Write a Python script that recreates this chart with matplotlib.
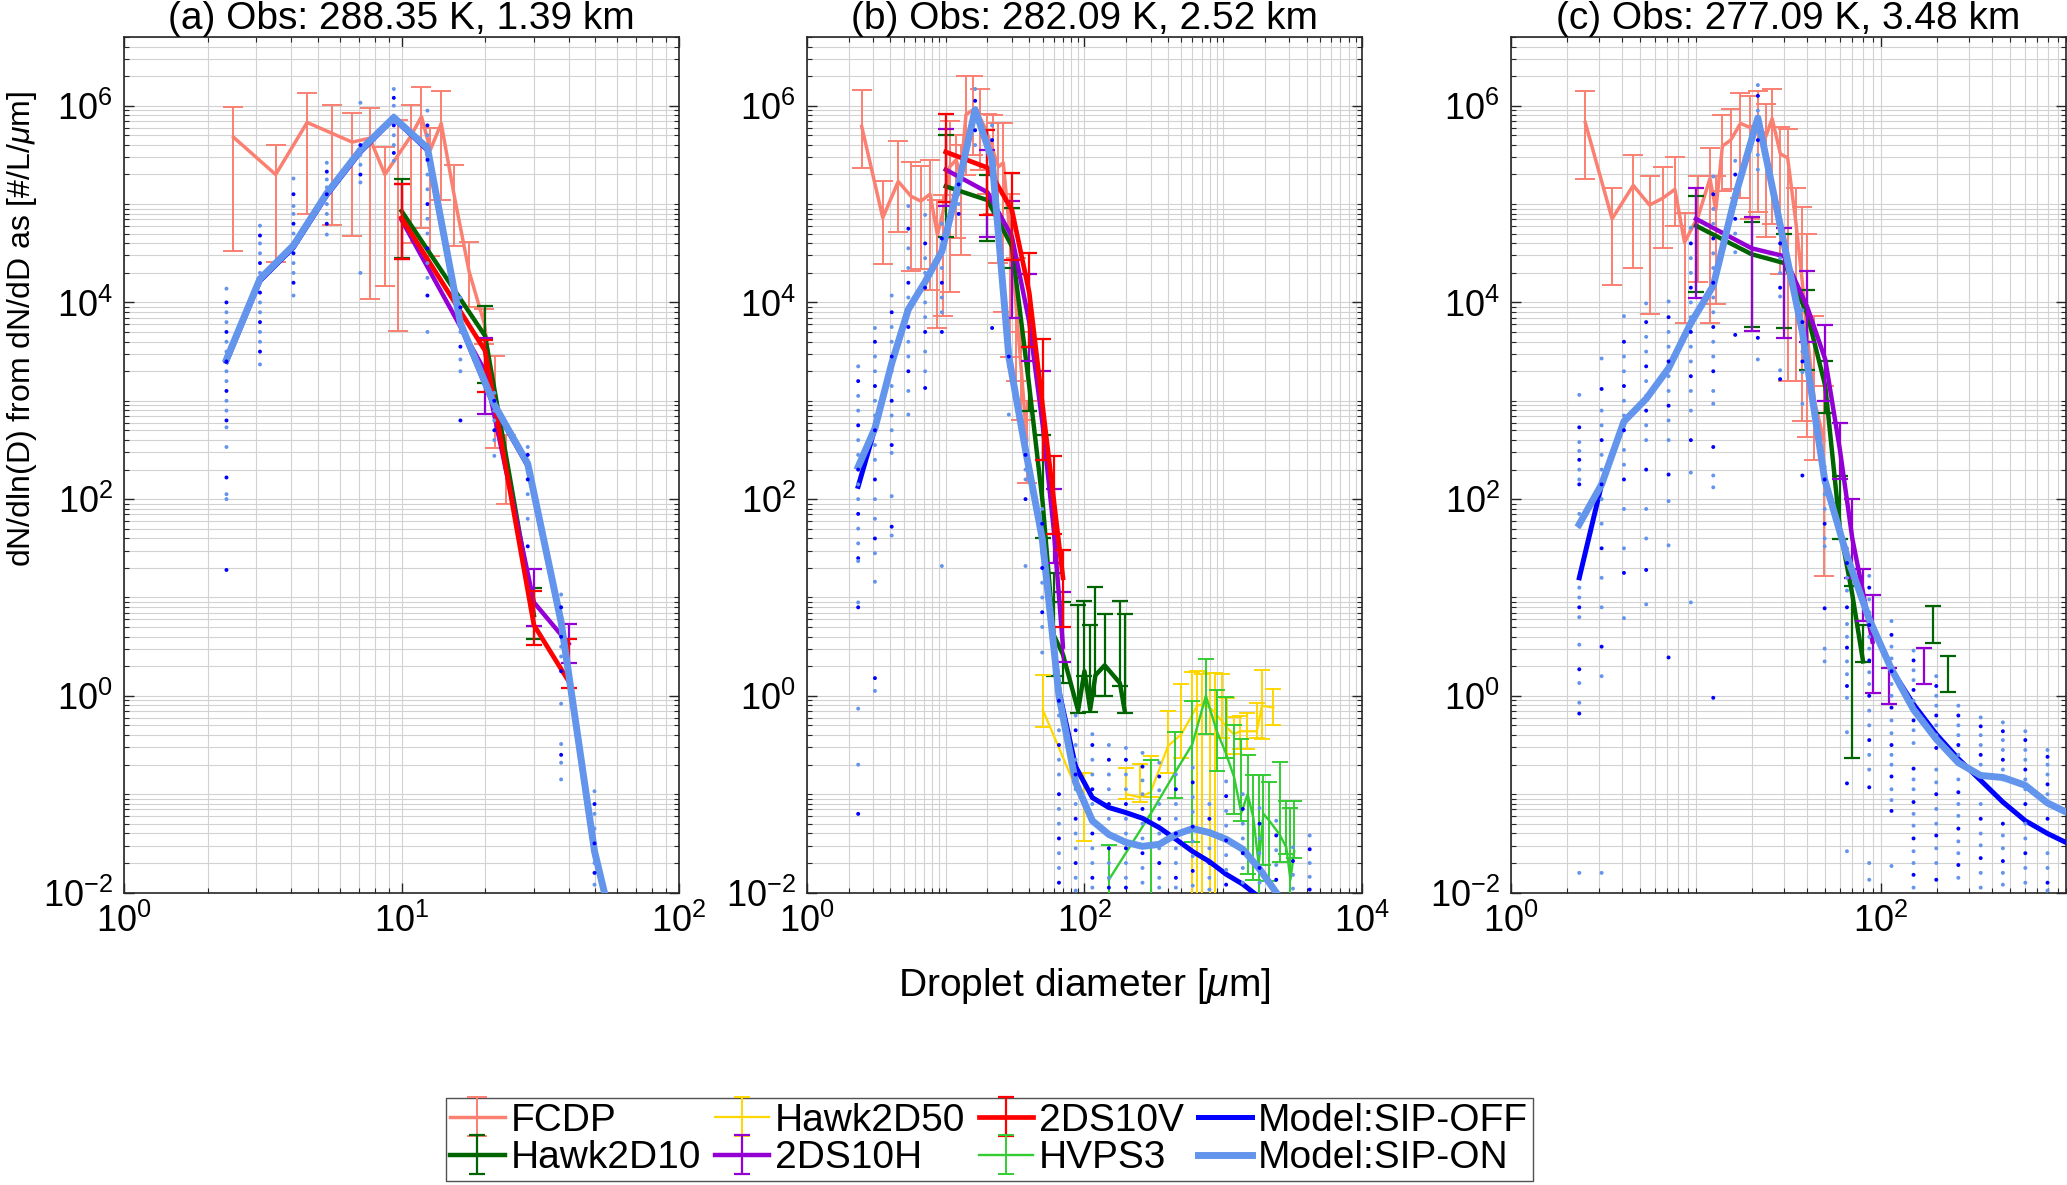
import numpy as np
import matplotlib
matplotlib.use('Agg')
import matplotlib.pyplot as plt
from matplotlib.ticker import FixedLocator, LogLocator, FuncFormatter, NullFormatter

plt.rcParams['font.family'] = ['Liberation Sans', 'DejaVu Sans']
plt.rcParams['mathtext.fontset'] = 'custom'
plt.rcParams['mathtext.rm'] = 'Liberation Sans'
plt.rcParams['mathtext.it'] = 'Liberation Sans:italic'
plt.rcParams['mathtext.bf'] = 'Liberation Sans:bold'

# ---------------- data (log10 of dN/dlnD) ----------------
titles = ['(a) Obs: 288.35 K, 1.39 km', '(b) Obs: 282.09 K, 2.52 km', '(c) Obs: 277.09 K, 3.48 km']
labels = ['FCDP', 'Hawk2D10', 'Hawk2D50', '2DS10H', '2DS10V', 'HVPS3', 'Model:SIP-OFF', 'Model:SIP-ON']

# model bin centres (um)
model_D = [2.34, 3.09, 4.08, 5.38, 7.11, 9.38, 12.4, 16.3, 21.6, 28.5, 37.6, 49.6, 65.5, 86.4,
           114, 150, 199, 262, 346, 456, 603, 795, 1050, 1384, 1827, 2411, 3183, 4201]

# ---- panel a ----
fcdp_a_D = [2.48, 3.52, 4.57, 5.61, 6.64, 7.69, 8.71, 9.73, 10.8, 11.8, 12.7, 13.9, 15.5, 17.5, 19.9, 21.7, 23.7]
fcdp_a_N = [5.68, 5.30, 5.83, 5.72, 5.63, 5.67, 5.30, 5.50, 5.69, 5.89, 5.55, 5.82, 5.08, 4.32, 3.78, 2.91, 2.30]
fcdp_a_top = [5.99, 5.60, 6.13, 6.01, 5.93, 5.98, 5.58, 5.85, 6.01, 6.19, 5.77, 6.15, 5.40, 4.61, 3.93, 3.46, 2.65]
fcdp_a_bot = [4.52, 4.41, 4.90, 4.79, 4.68, 4.03, 4.17, 3.71, 4.60, 4.76, 4.47, 5.04, 4.57, 3.95, 3.58, 2.52, 1.95]

h2d10_a_D = [10, 20, 30]
h2d10_a_N = [4.93, 3.66, 0.82]
h2d10_a_top = [5.25, 3.96, 1.10]
h2d10_a_bot = [4.45, 3.18, 0.58]

ds10h_a_D = [10, 20, 30, 40]
ds10h_a_N = [4.84, 3.30, 0.95, 0.53]
ds10h_a_top = [5.20, 3.64, 1.29, 0.73]
ds10h_a_bot = [4.44, 2.87, 0.71, 0.33]

ds10v_a_D = [10, 20, 30, 40]
ds10v_a_N = [4.86, 3.51, 0.72, 0.15]
ds10v_a_top = [5.20, 3.62, 1.07, 0.58]
ds10v_a_bot = [4.44, 3.09, 0.52, 0.08]

off_a = [3.40, 4.22, 4.56, 5.09, 5.53, 5.87, 5.55, 3.77, 2.94, 2.34, 0.73, -1.60, -3.0]
on_a = [3.42, 4.24, 4.58, 5.11, 5.55, 5.88, 5.57, 3.79, 2.96, 2.36, 0.75, -1.58, -3.0]

dots_a = [
    [4.14, 4.0, 3.9, 3.8, 3.7, 3.6, 3.5, 3.4, 3.3, 3.2, 3.1, 3.0, 2.9, 2.8, 2.73, 2.53, 2.22, 2.05, 2.0, 1.28],
    [4.78, 4.68, 4.6, 4.5, 4.4, 4.3, 4.2, 4.1, 4.0, 3.9, 3.8, 3.7, 3.6, 3.5, 3.37],
    [5.26, 5.1, 4.98, 4.9, 4.8, 4.7, 4.6, 4.5, 4.4, 4.3, 4.2, 4.07],
    [5.42, 5.33, 5.25, 5.17, 5.1, 5.0, 4.9, 4.8, 4.69],
    [6.03, 5.6, 5.5, 5.4, 5.3, 5.22, 4.30],
    [6.17, 6.08, 6.0, 5.9, 5.8, 5.7, 5.6, 5.52, 5.44],
    [5.95, 5.8, 5.7, 5.6, 5.45, 5.3, 5.15, 5.0, 4.85, 4.7, 4.55, 4.4, 4.25, 4.07, 3.70],
    [4.05, 3.95, 3.8, 3.7, 3.55, 3.42, 3.30, 2.80],
    [3.08, 3.0, 2.9, 2.8, 2.7, 2.6, 2.44],
    [2.53, 2.45, 2.35, 2.28, 2.2, 2.05, 1.8, 1.52],
    [1.03, 0.9, 0.8, 0.7, 0.6, 0.5, 0.4, 0.25, -0.08, -0.49, -0.6, -0.68, -0.85],
    [-0.97, -1.1, -1.2, -1.35, -1.5, -1.6, -1.7, -1.8, -1.92],
]

# ---- panel b ----
fcdp_b_D = [2.48, 3.52, 4.55, 5.62, 6.61, 7.71, 8.71, 9.61, 10.7, 11.9, 12.8, 14.0, 15.8, 17.7,
            19.7, 21.8, 24.0, 26.0, 29.0, 32.0, 35.1, 38.4]
fcdp_b_N = [5.79, 4.86, 5.23, 5.08, 5.03, 5.10, 4.69, 4.93, 5.38, 5.45, 5.28, 5.91, 5.96, 5.88,
            5.74, 5.55, 5.38, 5.42, 4.70, 4.00, 3.30, 2.60]
fcdp_b_top = [6.16, 5.23, 5.64, 5.43, 5.39, 5.45, 5.04, 5.09, 5.84, 5.70, 5.60, 6.30, 6.30, 6.17,
              5.92, 5.91, 5.82, 5.82, 5.10, 4.45, 3.70, 3.00]
fcdp_b_bot = [5.37, 4.39, 4.72, 4.32, 4.34, 4.13, 3.74, 3.86, 4.11, 4.65, 4.48, 5.30, 5.50, 5.35,
              5.10, 4.90, 4.40, 3.90, 3.45, 3.20, 2.80, 2.16]

h2d10_b_D = [10, 20, 30, 40, 50, 60, 70, 90, 100, 110, 120, 140, 180, 195]
h2d10_b_N = [5.18, 5.04, 4.57, 3.15, 1.96, 0.62, 0.42, -0.15, 0.25, -0.14, 0.21, 0.31, 0.13, -0.15]
h2d10_b_top = [5.70, 5.30, 4.96, 3.55, 2.65, 1.25, 0.95, 0.92, 0.96, 0.72, 1.11, 0.83, 0.96, 0.83]
h2d10_b_bot = [4.67, 4.62, 4.35, 2.90, 1.60, 0.20, 0.13, -0.17, 0.20, -0.16, 0.00, 0.00, 0.10, -0.17]

h2d50_b_D = [50, 100, 150, 200, 250, 300, 400, 500, 600, 650, 700, 800, 870, 980, 1060, 1190,
             1320, 1480, 1750, 1900, 2300]
h2d50_b_N = [-0.14, -1.14, np.nan, -1.00, -1.03, -0.98, -0.51, -0.39, -0.19, -0.10, -0.09, -0.12,
             -0.17, -0.26, -0.32, -0.39, -0.36, -0.36, -0.36, -0.10, -0.12]
h2d50_b_top = [0.21, -0.78, np.nan, -0.73, -0.69, -0.61, -0.15, 0.12, 0.24, 0.25, 0.22, 0.23,
               0.23, 0.22, -0.02, -0.22, -0.21, -0.17, -0.07, 0.26, 0.07]
h2d50_b_bot = [-0.32, -1.48, np.nan, -1.05, -1.08, -1.03, -0.78, -0.63, -3.0, -3.0, -3.0, -3.0,
               -3.0, -0.43, -0.63, -0.59, -0.54, -0.54, -0.43, -0.44, -0.30]

ds10h_b_D = [10, 20, 30, 40, 50, 60, 70]
ds10h_b_N = [5.35, 5.12, 4.67, 3.80, 2.75, 1.70, 0.50]
ds10h_b_top = [5.76, 5.55, 5.03, 4.29, 3.30, 2.10, 1.06]
ds10h_b_bot = [4.98, 4.67, 3.84, 3.40, 2.40, 1.35, 0.34]

ds10v_b_D = [10, 20, 30, 40, 50, 60, 70]
ds10v_b_N = [5.53, 5.37, 4.94, 4.10, 2.94, 2.00, 1.20]
ds10v_b_top = [5.92, 5.75, 5.32, 4.50, 3.63, 2.44, 1.48]
ds10v_b_bot = [5.02, 4.89, 4.43, 3.55, 2.40, 1.65, 0.70]

hvps_b_D = [150, 300, 450, 600, 750, 900, 1050, 1200, 1350, 1500, 1650, 1800, 1950, 2150, 2550,
            2850, 3050, 3250]
hvps_b_N = [-1.87, -1.20, -0.78, -0.49, 0.00, -0.36, -0.59, -0.83, -1.19, -1.00, -1.24, -1.71,
            -1.20, -1.27, -1.41, -1.54, -1.87, -1.58]
hvps_b_top = [-1.52, -0.65, -0.37, -0.05, 0.37, 0.06, -0.01, -0.30, -0.44, -0.60, -0.80, -0.80,
              -0.80, -0.88, -0.67, -1.07, -1.14, -1.07]
hvps_b_bot = [-3.0, -3.0, -1.04, -1.49, -0.39, -0.76, -0.63, -1.20, -1.27, -1.81, -1.87, -2.5,
              -1.72, -1.88, -1.69, -1.61, -2.5, -1.65]

off_b = [2.13, 2.72, 3.38, 3.93, 4.21, 4.52, 5.21, 5.96, 5.45, 3.45, 2.50, 1.60, 0.05, -0.72,
         -1.035, -1.136, -1.187, -1.245, -1.34, -1.458, -1.583, -1.685, -1.814, -1.915, -2.05,
         -2.2, -2.4, -2.6]
on_b = [2.33, 2.72, 3.38, 3.93, 4.21, 4.52, 5.21, 5.96, 5.45, 3.45, 2.50, 1.60, 0.00, -0.88,
        -1.27, -1.41, -1.49, -1.53, -1.51, -1.41, -1.35, -1.39, -1.458, -1.56, -1.76, -2.0,
        -2.25, -2.5]

dots_b = [
    [3.35, 3.2, 3.05, 2.9, 2.75, 2.6, 2.45, 2.3, 2.15, 2.0, 1.85, 1.7, 1.55, 1.4, 1.37, 0.95, 0.9, -0.13, -0.7, -1.2],
    [3.74, 3.6, 3.45, 3.3, 3.15, 3.0, 2.85, 2.7, 2.55, 2.4, 2.2, 2.0, 1.8, 1.6, 1.45, 1.16, 0.18, 0.05],
    [4.07, 3.9, 3.75, 3.6, 3.45, 3.3, 3.15, 3.0, 2.85, 2.7, 2.55, 2.47, 2.03, 1.72, 1.63],
    [4.98, 4.75, 4.55, 4.35, 4.2, 4.05, 3.9, 3.75, 3.6, 3.45, 3.3, 3.1, 2.86],
    [4.89, 4.6, 4.45, 4.3, 4.15, 4.0, 3.85, 3.7, 3.5, 3.3, 3.13],
    [4.8, 4.65, 4.5, 4.35, 4.2, 4.05, 3.9, 3.7, 1.32],
    [5.3, 5.2, 5.1, 5.0, 4.9],
    [6.17, 6.05, 5.95, 5.85, 5.75, 5.6],
    [5.8, 5.65, 5.5, 5.35, 3.74],
    [3.6, 3.45, 3.35, 2.86],
    [2.6, 2.45, 2.3, 2.2, 2.0, 1.32],
    [1.9, 1.75, 1.6, 1.45, 1.3, 1.15, 1.0, 0.85, 0.7, 0.44],
    [0.1, -0.05, -0.2, -0.35, -0.5, -0.65, -0.8, -1.0, -1.15, -1.3, -1.45, -1.6, -1.75, -1.9],
    [-0.2, -0.35, -0.5, -0.65, -0.8, -0.95, -1.1, -1.25, -1.4, -1.55, -1.7, -1.85, -1.98],
    [-0.39, -0.5, -0.65, -0.8, -0.95, -1.1, -1.25, -1.4, -1.55, -1.7, -1.85, -1.95],
    [-0.5, -0.65, -0.8, -0.95, -1.1, -1.25, -1.4, -1.55, -1.7, -1.85, -1.95],
    [-0.53, -0.65, -0.8, -0.95, -1.1, -1.25, -1.4, -1.55, -1.7, -1.85, -1.95],
    [-0.58, -0.72, -0.86, -1.0, -1.15, -1.3, -1.45, -1.6, -1.75, -1.9],
    [-0.68, -0.82, -0.96, -1.1, -1.25, -1.4, -1.55, -1.7, -1.85, -1.95],
    [-0.8, -0.95, -1.1, -1.25, -1.4, -1.55, -1.7, -1.85, -1.95],
    [-0.73, -0.88, -1.03, -1.18, -1.33, -1.48, -1.63, -1.78, -1.93],
    [-1.1, -1.25, -1.4, -1.55, -1.7, -1.85, -1.97],
    [-0.87, -1.02, -1.17, -1.32, -1.47, -1.62, -1.77, -1.92],
    [-1.0, -1.15, -1.3, -1.45, -1.6, -1.75, -1.9],
    [-1.14, -1.3, -1.45, -1.6, -1.75, -1.9],
    [-1.27, -1.42, -1.57, -1.72, -1.87],
    [-1.54, -1.68, -1.82, -1.96],
    [-1.42, -1.56, -1.7, -1.84, -1.97],
]

# ---- panel c ----
fcdp_c_D = [2.52, 3.52, 4.58, 5.61, 6.62, 7.69, 8.67, 10.3, 11.9, 12.8, 13.9, 15.4, 17.4, 19.5,
            21.6, 23.9, 25.8, 28.6, 31.3, 34.8, 37.5, 39.7, 43.7, 49.1]
fcdp_c_N = [5.83, 4.85, 5.19, 4.99, 5.06, 5.15, 4.61, 4.88, 5.26, 4.94, 5.59, 5.65, 5.82, 5.78,
            5.81, 5.69, 5.87, 5.51, 5.47, 4.79, 4.22, 3.70, 3.00, 2.60]
fcdp_c_top = [6.15, 5.16, 5.50, 5.29, 5.38, 5.48, 4.91, 5.29, 5.57, 5.29, 5.91, 5.97, 6.13, 6.10,
              6.15, 6.02, 6.17, 5.78, 5.76, 5.16, 4.97, 4.70, 3.86, 3.15]
fcdp_c_bot = [5.25, 4.18, 4.35, 3.88, 4.55, 4.78, 3.79, 4.21, 3.79, 3.98, 5.13, 5.15, 5.06, 4.85,
              4.92, 4.67, 4.80, 4.29, 3.20, 3.20, 2.79, 2.63, 2.40, 1.22]

h2d10_c_D = [10, 20, 30, 40, 50, 60, 70, 80, 100, 190, 200, 230]
h2d10_c_N = [4.78, 4.49, 4.40, 3.88, 3.15, 1.70, 1.03, 0.35, np.nan, 0.72, np.nan, 0.22]
h2d10_c_top = [5.08, 4.82, 4.70, 4.13, 3.40, 2.24, 1.12, 0.72, np.nan, 0.91, np.nan, 0.41]
h2d10_c_bot = [4.11, 3.75, 3.74, 3.31, 2.88, 1.59, -0.63, 0.34, np.nan, 0.54, np.nan, 0.04]

ds10h_c_D = [10, 20, 30, 40, 50, 60, 70, 80, 90, 100, 110, 120, 170]
ds10h_c_N = [4.85, 4.55, 4.47, 3.95, 3.42, 2.50, 1.60, 1.05, 0.55, np.nan, 0.12, np.nan, 0.32]
ds10h_c_top = [5.16, 4.87, 4.76, 4.32, 3.77, 2.77, 2.00, 1.29, 1.03, np.nan, 0.28, np.nan, 0.49]
ds10h_c_bot = [4.05, 3.71, 3.64, 3.60, 3.00, 2.20, 1.20, 0.76, 0.03, np.nan, -0.08, np.nan, 0.12]

off_c = [1.20, 2.15, 2.79, 3.02, 3.33, 3.79, 4.17, 5.08, 5.875, 4.79, 3.70, 2.20, 1.42, 0.78,
         0.27, -0.086, -0.39, -0.64, -0.86, -1.08, -1.27, -1.40, -1.51]
on_c = [1.745, 2.15, 2.79, 3.02, 3.33, 3.79, 4.17, 5.08, 5.875, 4.79, 3.70, 2.20, 1.42, 0.78,
        0.27, -0.14, -0.44, -0.68, -0.81, -0.83, -0.91, -1.09, -1.20]

dots_c = [
    [3.06, 2.73, 2.58, 2.49, 2.40, 2.30, 2.2, 2.15, 1.85, 1.72, 1.2, 1.1, 1.0, 0.9, 0.8, 0.52, 0.27, 0.13, -0.07, -0.18, -1.8],
    [3.43, 3.12, 2.9, 2.75, 2.6, 2.45, 2.3, 2.15, 2.0, 1.75, 1.5, 1.2, 0.9, 0.5, 0.2, -1.8],
    [3.86, 3.6, 3.45, 3.3, 3.15, 3.0, 2.85, 2.7, 2.5, 2.35, 2.2, 1.9, 1.5, 1.25, 0.79],
    [3.99, 3.8, 3.65, 3.5, 3.35, 3.2, 3.05, 2.9, 2.75, 2.6, 2.3, 1.9, 1.6, 1.28, 0.93],
    [4.01, 3.85, 3.7, 3.55, 3.4, 3.25, 3.1, 2.95, 2.8, 2.6, 2.25, 1.98, 1.53, 0.39],
    [4.76, 4.6, 4.45, 4.3, 4.15, 4.0, 3.85, 3.7, 3.55, 3.4, 3.25, 3.1, 2.9, 2.6, 2.27, 0.95],
    [5.28, 5.1, 4.95, 4.8, 4.65, 4.5, 4.35, 4.2, 4.05, 3.9, 3.75, 3.6, 3.45, 3.3, 3.1, 2.97, 2.53, 2.24, 2.12, -0.02],
    [5.44, 5.3, 5.15, 5.0, 4.85, 4.7, 4.51, 3.67],
    [6.21, 6.1, 5.95, 5.8, 5.65, 5.5, 5.35, 3.64, 3.42],
    [4.76, 4.6, 4.45, 4.3, 4.15, 4.06, 3.31, 3.22],
    [3.92, 3.8, 3.65, 3.5, 3.4, 3.29, 2.97, 2.24],
    [2.33, 2.2, 2.05, 1.9, 1.75, 1.6, 1.52, 0.89, 0.48, 0.35],
    [1.5, 1.35, 1.2, 1.07, 0.9, 0.73, 0.6, 0.49, 0.35, 0.22, 0.1, -0.02, -0.37, -0.89, -1.58],
    [1.22, 1.1, 0.98, 0.85, 0.72, 0.6, 0.48, 0.36, 0.24, 0.12, 0.0, -0.15, -0.3, -0.45, -0.6, -0.75, -0.93, -1.7, -1.87],
    [0.76, 0.62, 0.5, 0.38, 0.25, 0.12, 0.0, -0.12, -0.25, -0.38, -0.5, -0.6, -0.7, -0.82, -0.95, -1.06, -1.17, -1.73],
    [0.46, 0.36, 0.26, 0.16, 0.06, -0.05, -0.15, -0.25, -0.35, -0.48, -0.74, -0.85, -0.95, -1.08, -1.2, -1.32, -1.45, -1.58, -1.7, -1.82, -1.95],
    [0.2, 0.1, 0.0, -0.1, -0.2, -0.3, -0.4, -0.53, -0.75, -0.88, -1.0, -1.15, -1.3, -1.42, -1.55, -1.7, -1.87],
    [-0.1, -0.2, -0.3, -0.4, -0.5, -0.6, -0.85, -0.98, -1.1, -1.22, -1.35, -1.48, -1.6, -1.72, -1.85],
    [-0.22, -0.31, -0.4, -0.5, -0.6, -0.7, -1.1, -1.25, -1.4, -1.52, -1.65, -1.8, -1.95],
    [-0.27, -0.36, -0.45, -0.55, -0.65, -0.75, -0.85, -1.3, -1.42, -1.55, -1.68, -1.8, -1.92],
    [-0.36, -0.45, -0.55, -0.65, -0.75, -0.85, -0.95, -1.1, -1.3, -1.45, -1.6, -1.75, -1.9],
    [-0.55, -0.62, -0.7, -0.8, -0.9, -1.0, -1.1, -1.25, -1.6, -1.75, -1.9, -1.98],
    [-0.8, -0.9, -1.0, -1.1, -1.2, -1.3, -1.4],
]

# ---------------- style ----------------
C_FCDP = '#FA8072'
C_H2D10 = '#006400'
C_H2D50 = '#FFD700'
C_2DSH = '#9400D3'
C_2DSV = '#FF0000'
C_HVPS = '#32CD32'
C_OFF = '#0000FF'
C_ON = '#6495ED'
FS_TICK = 26
FS_TITLE = 28
FS_XLAB = 28
FS_YLAB = 23
FS_LEG = 28

fig = plt.figure(figsize=(20.67, 11.85), dpi=100)
bottom, height = 0.2468, 0.7220
lefts = [0.0600, 0.3904, 0.7310]
width = 0.2685
axes = [fig.add_axes([l, bottom, width, height]) for l in lefts]


def obs(ax, D, N, top, bot, color, lw, elw, cap, label, z):
    D = np.asarray(D, float)
    y = 10.0 ** np.asarray(N, float)
    yt = 10.0 ** np.asarray(top, float)
    yb = 10.0 ** np.asarray(bot, float)
    err = np.vstack([np.clip(y - yb, 0, None), np.clip(yt - y, 0, None)])
    ax.errorbar(D, y, yerr=err, color=color, lw=lw, elinewidth=elw, capsize=cap,
                capthick=elw, label=label, zorder=z)


def model(ax, vals, color, lw, label, z):
    n = len(vals)
    ax.plot(model_D[:n], 10.0 ** np.asarray(vals, float), color=color, lw=lw, label=label,
            zorder=z, solid_joinstyle='round')


def dots(ax, cols):
    xs, ys, cs = [], [], []
    for k, col in enumerate(cols):
        for j, v in enumerate(col):
            xs.append(model_D[k])
            ys.append(10.0 ** v)
            cs.append(C_OFF if j % 3 == 1 else C_ON)
    ax.scatter(xs, ys, s=8, c=cs, linewidths=0, zorder=9)


def fmt(x, pos):
    e = int(round(np.log10(x)))
    return r'$\mathdefault{10^{%d}}$' % e


def style(ax, xlim, xmaj, title):
    ax.set_xscale('log')
    ax.set_yscale('log')
    ax.set_xlim(*xlim)
    ax.set_ylim(1e-2, 5e6)
    ax.xaxis.set_major_locator(FixedLocator(xmaj))
    ax.xaxis.set_minor_locator(LogLocator(base=10, subs=np.arange(1, 10), numticks=100))
    ax.yaxis.set_major_locator(FixedLocator([1e-2, 1, 1e2, 1e4, 1e6]))
    ax.yaxis.set_minor_locator(LogLocator(base=10, subs=np.arange(1, 10), numticks=100))
    ax.xaxis.set_major_formatter(FuncFormatter(fmt))
    ax.yaxis.set_major_formatter(FuncFormatter(fmt))
    ax.xaxis.set_minor_formatter(NullFormatter())
    ax.yaxis.set_minor_formatter(NullFormatter())
    ax.grid(True, which='both', color='#d2d2d2', lw=0.8, zorder=0)
    ax.set_axisbelow(True)
    ax.tick_params(which='both', direction='in', top=True, right=True, colors='#262626',
                   labelcolor='black', labelsize=FS_TICK)
    ax.tick_params(which='major', length=7, width=1.0, pad=8)
    ax.tick_params(which='minor', length=3.5, width=0.8)
    for s in ax.spines.values():
        s.set_color('#262626')
        s.set_linewidth(1.2)
    ax.set_title(title, fontsize=FS_TITLE, pad=4)


axa, axb, axc = axes

# panel a
obs(axa, fcdp_a_D, fcdp_a_N, fcdp_a_top, fcdp_a_bot, C_FCDP, 2.5, 1.4, 7, labels[0], 2)
obs(axa, h2d10_a_D, h2d10_a_N, h2d10_a_top, h2d10_a_bot, C_H2D10, 3.2, 1.6, 6, labels[1], 3)
obs(axa, ds10h_a_D, ds10h_a_N, ds10h_a_top, ds10h_a_bot, C_2DSH, 3.2, 1.6, 6, labels[3], 4)
obs(axa, ds10v_a_D, ds10v_a_N, ds10v_a_top, ds10v_a_bot, C_2DSV, 3.4, 1.6, 6, labels[4], 5)
model(axa, off_a, C_OFF, 3.6, labels[6], 7)
model(axa, on_a, C_ON, 5.0, labels[7], 8)
dots(axa, dots_a)

# panel b
obs(axb, fcdp_b_D, fcdp_b_N, fcdp_b_top, fcdp_b_bot, C_FCDP, 2.5, 1.4, 7, labels[0], 2)
obs(axb, h2d10_b_D, h2d10_b_N, h2d10_b_top, h2d10_b_bot, C_H2D10, 3.2, 1.6, 6, labels[1], 3)
obs(axb, h2d50_b_D, h2d50_b_N, h2d50_b_top, h2d50_b_bot, C_H2D50, 1.6, 1.4, 6, labels[2], 3.5)
obs(axb, ds10h_b_D, ds10h_b_N, ds10h_b_top, ds10h_b_bot, C_2DSH, 3.2, 1.6, 6, labels[3], 4)
obs(axb, ds10v_b_D, ds10v_b_N, ds10v_b_top, ds10v_b_bot, C_2DSV, 3.4, 1.6, 6, labels[4], 5)
obs(axb, hvps_b_D, hvps_b_N, hvps_b_top, hvps_b_bot, C_HVPS, 1.7, 1.4, 6, labels[5], 6)
model(axb, off_b, C_OFF, 3.6, labels[6], 7)
model(axb, on_b, C_ON, 5.0, labels[7], 8)
dots(axb, dots_b)

# panel c
obs(axc, fcdp_c_D, fcdp_c_N, fcdp_c_top, fcdp_c_bot, C_FCDP, 2.5, 1.4, 7, labels[0], 2)
obs(axc, h2d10_c_D, h2d10_c_N, h2d10_c_top, h2d10_c_bot, C_H2D10, 3.2, 1.6, 6, labels[1], 3)
obs(axc, ds10h_c_D, ds10h_c_N, ds10h_c_top, ds10h_c_bot, C_2DSH, 3.2, 1.6, 6, labels[3], 4)
model(axc, off_c, C_OFF, 3.6, labels[6], 7)
model(axc, on_c, C_ON, 5.0, labels[7], 8)
dots(axc, dots_c)

style(axa, (1, 100), [1, 10, 100], titles[0])
style(axb, (1, 1e4), [1, 100, 1e4], titles[1])
style(axc, (1, 1000), [1, 100], titles[2])

fig.text(0.5246, 0.168, r'Droplet diameter [$\mu$m]', ha='center', va='center', fontsize=FS_XLAB)
fig.text(0.0105, 0.722, r'dN/dln(D) from dN/dD as [#/L/$\mu$m]', ha='center', va='center',
         rotation=90, fontsize=FS_YLAB)

h, l = axb.get_legend_handles_labels()
hd = dict(zip(l, h))
leg = fig.legend([hd[k] for k in labels], labels, loc='center', bbox_to_anchor=(0.4785, 0.0384),
                 ncol=4, fontsize=FS_LEG, frameon=True, fancybox=False, edgecolor='#262626',
                 handlelength=1.4, handletextpad=0.15, columnspacing=0.35, labelspacing=0.05,
                 borderpad=0.12, borderaxespad=0)
leg.get_frame().set_linewidth(1.0)

fig.savefig('out.png', dpi=100)
